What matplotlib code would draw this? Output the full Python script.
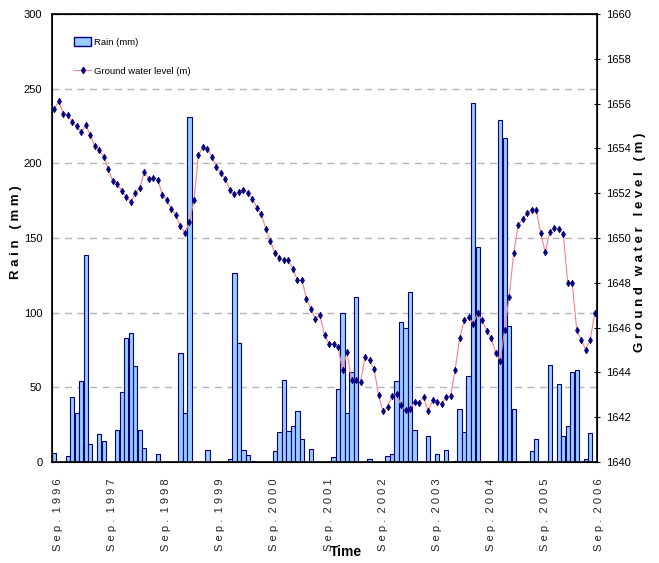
import numpy as np
import matplotlib
matplotlib.use("Agg")
import matplotlib.pyplot as plt
from matplotlib.patches import Patch
from matplotlib.lines import Line2D
from matplotlib.transforms import ScaledTranslation

plt.rcParams['font.family'] = ['Liberation Sans Narrow', 'Liberation Sans', 'DejaVu Sans']

# monthly rainfall (mm), Sep 1996 .. Sep 2006
rain = [6.0, 0, 0, 3.8, 43.7, 32.9, 54.2, 138.8, 12.3, 0.7, 18.6, 14.1,
        0, 0, 21.5, 47.0, 82.8, 86.4, 64.0, 21.5, 9.4, 0, 0, 5.6,
        0, 0, 0, 0, 73.0, 33.1, 231.1, 0, 0, 0, 7.8, 0,
        0, 0, 0, 2.0, 126.3, 79.9, 7.8, 4.5, 0.7, 0, 0, 0,
        0, 7.4, 20.2, 54.6, 20.6, 24.2, 34.3, 15.4, 0, 8.5, 0, 0,
        0, 0, 3.1, 48.8, 100.1, 32.9, 60.0, 110.8, 0, 0, 2.0, 0,
        0, 0, 3.8, 5.6, 54.2, 93.8, 90.0, 114.0, 21.5, 0, 0, 17.7,
        0, 5.6, 0, 7.8, 0, 0.5, 35.8, 20.4, 57.8, 240.3, 144.0, 0,
        0, 0, 0, 229.0, 217.2, 90.9, 35.8, 0, 0, 0, 7.6, 15.7,
        0, 0, 64.7, 0, 52.4, 17.5, 24.0, 60.2, 61.8, 0, 2.2, 19.5,
        0]

# ground water level (m)
gwl = [1655.77, 1656.10, 1655.55, 1655.51, 1655.18, 1654.99, 1654.73, 1655.04, 1654.60, 1654.11, 1653.91, 1653.62,
       1653.08, 1652.53, 1652.41, 1652.10, 1651.83, 1651.62, 1651.99, 1652.25, 1652.93, 1652.65, 1652.69, 1652.60,
       1651.93, 1651.68, 1651.31, 1651.01, 1650.52, 1650.22, 1650.71, 1651.68, 1653.69, 1654.06, 1653.99, 1653.62,
       1653.17, 1652.90, 1652.65, 1652.13, 1651.95, 1652.05, 1652.16, 1652.01, 1651.76, 1651.35, 1651.06, 1650.39,
       1649.87, 1649.33, 1649.12, 1649.00, 1649.00, 1648.63, 1648.11, 1648.11, 1647.29, 1646.82, 1646.38, 1646.55,
       1645.68, 1645.28, 1645.28, 1645.13, 1644.12, 1644.90, 1643.68, 1643.68, 1643.56, 1644.67, 1644.54, 1644.17,
       1642.98, 1642.26, 1642.46, 1642.96, 1643.02, 1642.53, 1642.31, 1642.35, 1642.69, 1642.65, 1642.90, 1642.28,
       1642.75, 1642.66, 1642.60, 1642.92, 1642.93, 1644.12, 1645.52, 1646.32, 1646.46, 1646.18, 1646.65, 1646.32,
       1645.86, 1645.54, 1644.87, 1644.51, 1645.91, 1647.37, 1649.33, 1650.57, 1650.85, 1651.12, 1651.26, 1651.26,
       1650.22, 1649.36, 1650.27, 1650.45, 1650.40, 1650.19, 1648.01, 1648.01, 1645.88, 1645.46, 1645.01, 1645.46,
       1646.65]

years = list(range(1996, 2007))
xlabels = ["S e p .  " + " ".join(str(y)) for y in years]

x = np.arange(len(rain))

fig = plt.figure(figsize=(6.59, 5.63), dpi=100)
ax = fig.add_axes([52/659, 1-462/563, 545/659, 448/563])

ax.bar(x, rain, width=0.95, color='#99CCFF', edgecolor='#000080', linewidth=0.8, zorder=2)
ax.set_xlim(-0.5, len(rain) - 0.5)
ax.set_ylim(0, 300)
ax.set_yticks(np.arange(0, 301, 50))
ax.yaxis.grid(True, linestyle=(0, (5, 4)), color='#b4b4b4', linewidth=1)
ax.set_axisbelow(True)
ax.tick_params(axis='y', length=0, pad=7, labelsize=8)
ax.set_xticks(np.arange(0, len(rain), 12))
ax.set_xticklabels(xlabels, rotation=90, fontsize=8, color='#222222')
ax.tick_params(axis='x', length=0, pad=12)
shift = ScaledTranslation(4/100, 0, fig.dpi_scale_trans)
for lab in ax.get_xticklabels():
    lab.set_transform(lab.get_transform() + shift)
for sp in ax.spines.values():
    sp.set_linewidth(1.2)

ax2 = ax.twinx()
ax2.plot(x, gwl, color='#FF8080', linewidth=0.8, marker='d', markersize=3.4,
         markeredgewidth=0.5, markerfacecolor='#000080', markeredgecolor='#000080', zorder=3)
ax2.set_ylim(1640, 1660)
ax2.set_yticks(np.arange(1640, 1661, 2))
ax2.tick_params(axis='y', direction='inout', length=5, width=0.8, pad=4, labelsize=8)

handles = [Patch(facecolor='#99CCFF', edgecolor='#000080', linewidth=1),
           Line2D([], [], color='#FF8080', linewidth=0.8, marker='d', markersize=3.2,
                  markerfacecolor='#000080', markeredgecolor='#000080')]
leg = ax2.legend(handles, ['Rain (mm)', 'Ground water level (m)'], loc='upper left',
                 bbox_to_anchor=(0.02, 0.975), fontsize=6.8, frameon=True, fancybox=False,
                 edgecolor='none', facecolor='white', framealpha=1,
                 handlelength=1.8, handleheight=1.2, labelspacing=2.1, handletextpad=0.3,
                 borderpad=0.7)

fig.text(16/659, 1-232/563, "R a i n   ( m m )", rotation=90, ha='center', va='center',
         fontsize=9.5, fontweight='bold')
fig.text(640/659, 1-242/563, "G r o u n d   w a t e r   l e v e l   ( m )", rotation=90,
         ha='center', va='center', fontsize=9.5, fontweight='bold')
fig.text(346/659, 1-552/563, "Time", ha='center', va='center', fontsize=10, fontweight='bold')

fig.savefig("out.png", dpi=100)
